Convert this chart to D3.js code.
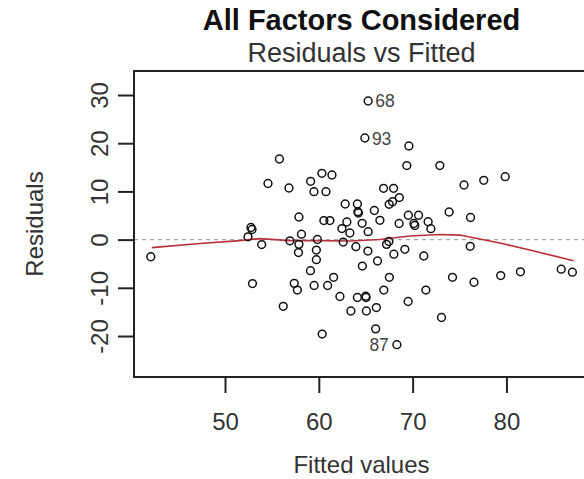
<!DOCTYPE html>
<html>
<head>
<meta charset="utf-8">
<script src="https://cdn.jsdelivr.net/npm/d3@7"></script>
<style>
  html, body { margin: 0; padding: 0; background: #fff; }
  svg { display: block; }
  text { font-family: "Liberation Sans", Arial, sans-serif; fill: #222; }
</style>
</head>
<body>
<svg id="chart" width="584" height="479"></svg>
<script>
// ---- data ----
const fitted = [65.26, 64.91, 69.60, 69.38, 72.90, 75.48, 77.58, 79.87, 55.80, 54.58,
  56.82, 60.33, 61.40, 59.13, 59.48, 60.76, 66.90, 67.97, 68.58, 67.50,
  67.86, 62.81, 64.11, 64.16, 64.22, 65.92, 66.51, 64.62, 65.26, 68.56,
  69.54, 70.63, 70.13, 70.23, 71.65, 71.94, 73.89, 76.17, 57.88, 60.54,
  61.18, 62.99, 62.46, 63.31, 52.77, 52.88, 58.15, 52.45, 56.92, 59.85,
  53.91, 57.88, 57.83, 59.74, 59.74, 59.11, 62.60, 63.95, 65.23, 64.64,
  66.26, 67.22, 67.47, 68.00, 69.17, 71.19, 76.14, 67.52, 74.25, 76.54,
  79.39, 81.49, 85.84, 87.03, 66.93, 71.41, 64.11, 65.00, 65.04, 69.52,
  63.42, 65.07, 66.13, 73.08, 66.06, 68.32, 60.36, 56.21, 52.93, 57.38,
  57.72, 59.50, 60.94, 61.58, 62.25, 42.09];
const residuals = [28.76, 21.08, 19.42, 15.37, 15.37, 11.33, 12.30, 13.05, 16.72, 11.64,
  10.71, 13.76, 13.40, 12.10, 9.94, 9.94, 10.64, 10.64, 8.73, 7.32,
  7.86, 7.39, 7.39, 5.79, 5.52, 6.04, 4.00, 3.38, 1.64, 3.34,
  5.06, 5.06, 3.34, 2.93, 3.71, 2.26, 5.73, 4.59, 4.69, 3.96,
  3.96, 3.65, 2.30, 1.37, 2.51, 2.10, 1.12, 0.58, -0.25, 0.02,
  -1.02, -0.98, -2.68, -2.16, -4.17, -6.45, -0.50, -1.47, -2.37, -5.48,
  -4.44, -0.98, -0.39, -3.03, -2.01, -3.40, -1.39, -7.82, -7.82, -8.84,
  -7.45, -6.68, -6.14, -6.76, -10.46, -10.46, -12.01, -11.74, -12.01, -12.84,
  -14.81, -14.81, -14.09, -16.16, -18.51, -21.80, -19.59, -13.84, -9.11, -9.07,
  -10.46, -9.52, -9.52, -7.82, -11.80, -3.55];
// labelled observations: index into the arrays above, label text, side
const idIndex = [0, 1, 85];
const idLabels = ["68", "93", "87"];
const idSide = ["right", "right", "left"];
// smoother (red line)
const smoothX = [42.2, 47.34, 51.6, 53.73, 56.92, 60.12, 63.31, 66.5, 69.7, 72.9, 75.03, 77.16, 79.29, 82.49, 87.16];
const smoothY = [-1.68, -0.81, -0.19, 0.22, -0.19, -0.19, -0.29, 0.02, 0.75, 1.06, 0.95, 0.12, -0.71, -2.16, -4.38];
const xTicks = [50, 60, 70, 80];
const yTicks = [-20, -10, 0, 10, 20, 30];
const titleText = "All Factors Considered";
const captionText = "Residuals vs Fitted";
const xLabel = "Fitted values";
const yLabel = "Residuals";

// ---- layout ----
const svg = d3.select("#chart");
const pL = 134, pR = 589, pT = 71, pB = 377;
const x = d3.scaleLinear().domain([40.3, 88.8]).range([pL, pR]);
const y = d3.scaleLinear().domain([-28.5, 34.98]).range([pB, pT]);
const axisFont = 24;
const fmt = d => String(d);   // plain hyphen minus, as in the reference

// zero reference line
svg.append("line")
  .attr("x1", pL).attr("x2", pR)
  .attr("y1", y(0)).attr("y2", y(0))
  .attr("stroke", "#aaa").attr("stroke-width", 1.2)
  .attr("stroke-dasharray", "4,4");

// smoother
svg.append("path")
  .datum(smoothX.map((v, i) => [v, smoothY[i]]))
  .attr("fill", "none")
  .attr("stroke", "#b8303c")
  .attr("stroke-width", 1.7)
  .attr("d", d3.line().x(d => x(d[0])).y(d => y(d[1])));

// points
svg.append("g").selectAll("circle")
  .data(fitted.map((v, i) => [v, residuals[i]]))
  .join("circle")
  .attr("cx", d => x(d[0])).attr("cy", d => y(d[1]))
  .attr("r", 3.9)
  .attr("fill", "none").attr("stroke", "#111").attr("stroke-width", 1.5);

// id labels
svg.append("g").selectAll("text")
  .data(idIndex)
  .join("text")
  .attr("x", (d, i) => idSide[i] === "right" ? x(fitted[d]) + 7 : x(fitted[d]) - 8)
  .attr("y", d => y(residuals[d]) + 6.5)
  .attr("text-anchor", (d, i) => idSide[i] === "right" ? "start" : "end")
  .style("font-size", "17.5px")
  .style("fill", "#444")
  .text((d, i) => idLabels[i]);

// axes
const xAxis = d3.axisBottom(x).tickValues(xTicks).tickFormat(fmt).tickSize(16).tickPadding(20);
const gx = svg.append("g").attr("transform", `translate(0,${pB})`).call(xAxis);
gx.select(".domain").remove();
gx.selectAll("line").attr("stroke", "#222").attr("stroke-width", 2);
gx.selectAll("text").style("font-size", axisFont + "px").style("fill", "#333")
  .attr("font-family", null);

const yAxis = d3.axisLeft(y).tickValues(yTicks).tickFormat(fmt).tickSize(16).tickPadding(0);
const gy = svg.append("g").attr("transform", `translate(${pL},0)`).call(yAxis);
gy.select(".domain").remove();
gy.selectAll("line").attr("stroke", "#222").attr("stroke-width", 2);
gy.selectAll("text")
  .style("font-size", axisFont + "px").style("fill", "#333")
  .attr("x", null).attr("dy", null)
  .attr("text-anchor", "middle")
  .attr("transform", "translate(-34,0) rotate(-90)")
  .attr("dy", "0.35em");

// box
svg.append("rect")
  .attr("x", pL).attr("y", pT)
  .attr("width", pR - pL).attr("height", pB - pT)
  .attr("fill", "none").attr("stroke", "#222").attr("stroke-width", 2);

// titles
const cx = (pL + pR) / 2;
svg.append("text").attr("x", cx).attr("y", 30)
  .attr("text-anchor", "middle")
  .style("font-size", "29px").style("font-weight", "bold").style("fill", "#111")
  .text(titleText);
svg.append("text").attr("x", cx).attr("y", 62)
  .attr("text-anchor", "middle")
  .style("font-size", "27px").style("fill", "#333")
  .text(captionText);

svg.append("text").attr("x", cx).attr("y", 473)
  .attr("text-anchor", "middle")
  .style("font-size", axisFont + "px").style("fill", "#333")
  .text(xLabel);
svg.append("text")
  .attr("transform", `translate(43,${(pT + pB) / 2}) rotate(-90)`)
  .attr("text-anchor", "middle")
  .style("font-size", axisFont + "px").style("fill", "#333")
  .text(yLabel);
</script>
</body>
</html>
